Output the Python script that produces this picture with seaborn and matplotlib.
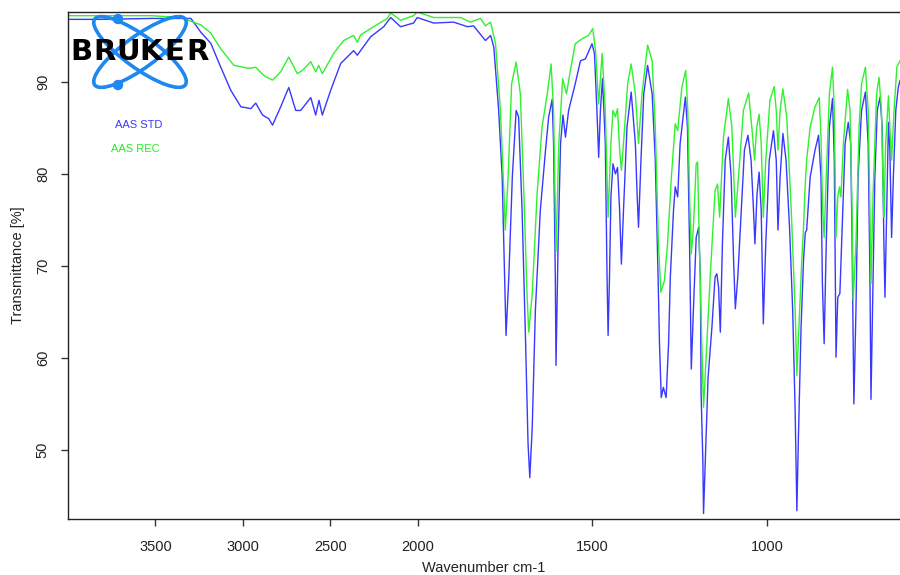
import numpy as np
import pandas as pd
import matplotlib
matplotlib.use("Agg")
import matplotlib.pyplot as plt
from matplotlib.patches import Ellipse, Circle
import seaborn as sns

# ---------------- data ----------------
std_wn = [3998, 3811, 3526, 3297, 3240, 3183, 3126, 3069, 3011, 2954, 2926, 2887, 2851, 2830,
          2783, 2737, 2697, 2669, 2640, 2611, 2583, 2564, 2545, 2497, 2440, 2366, 2345, 2269,
          2194, 2154, 2097, 2023, 2002, 1954, 1897, 1857, 1840, 1806, 1791, 1782, 1768, 1758,
          1751, 1747, 1739, 1729, 1718, 1711, 1701, 1691, 1684, 1679, 1672, 1663, 1649, 1634,
          1625, 1615, 1611, 1606, 1604, 1598, 1591, 1584, 1577, 1568, 1549, 1534, 1520, 1501,
          1494, 1487, 1482, 1477, 1471, 1463, 1458, 1455, 1451, 1447, 1441, 1434, 1428, 1422,
          1417, 1411, 1401, 1389, 1377, 1372, 1368, 1361, 1353, 1342, 1329, 1320, 1312, 1308,
          1303, 1297, 1289, 1282, 1277, 1268, 1263, 1256, 1249, 1234, 1228, 1222, 1217, 1211,
          1203, 1196, 1191, 1189, 1184, 1182, 1177, 1169, 1158, 1149, 1144, 1139, 1134, 1128,
          1120, 1111, 1103, 1096, 1091, 1084, 1074, 1065, 1055, 1046, 1039, 1035, 1029, 1023,
          1017, 1011, 1004, 994, 982, 974, 969, 963, 955, 946, 936, 927, 920, 915, 911, 903,
          896, 891, 887, 877, 863, 853, 846, 842, 837, 831, 822, 813, 808, 803, 798, 792, 787,
          777, 768, 761, 757, 752, 746, 740, 730, 719, 711, 706, 703, 699, 692, 685, 677, 671,
          666, 663, 658, 653, 649, 644, 639, 632, 625, 620, 612]
std_t = [96.8, 96.8, 96.9, 96.9, 95.4, 94.2, 91.6, 89.1, 87.3, 87.1, 87.7, 86.4, 86.0, 85.3,
         87.3, 89.4, 86.9, 86.9, 87.6, 88.3, 86.4, 88.0, 86.4, 89.1, 92.0, 93.4, 92.9, 94.9,
         96.0, 97.0, 96.0, 96.4, 97.0, 96.4, 96.5, 96.0, 96.1, 94.5, 95.05, 93.8, 86.9, 79.65,
         68.8, 62.45, 68.8, 79.65, 86.9, 86.2, 76.0, 61.6, 50.7, 47.0, 52.5, 65.2, 76.0, 82.6,
         86.2, 88.1, 83.3, 68.8, 59.2, 72.4, 83.3, 86.4, 84.0, 86.9, 89.8, 92.3, 92.5, 94.15,
         93.1, 86.9, 81.8, 86.9, 90.35, 83.3, 68.8, 62.45, 68.8, 77.5, 81.1, 80.0, 80.7, 76.0,
         70.2, 76.0, 85.1, 88.9, 83.3, 77.8, 74.2, 81.5, 88.7, 91.8, 88.7, 81.5, 68.8, 61.55,
         55.7, 56.8, 55.7, 61.55, 68.8, 76.0, 78.6, 77.5, 83.3, 88.35, 85.1, 72.4, 58.8, 65.2,
         73.1, 74.2, 68.8, 56.1, 48.9, 43.1, 48.9, 57.9, 63.35, 68.8, 69.15, 67.7, 62.8, 72.4,
         81.5, 84.0, 79.65, 70.6, 65.35, 68.8, 76.0, 82.6, 84.2, 81.5, 76.0, 72.4, 77.8, 80.2,
         76.0, 63.7, 72.4, 81.5, 84.7, 81.5, 73.9, 79.65, 84.4, 81.5, 74.2, 65.2, 54.3, 43.4,
         50.7, 63.35, 70.6, 73.6, 73.9, 79.65, 82.6, 84.2, 79.65, 68.1, 61.55, 72.4, 85.1,
         88.2, 81.5, 60.1, 66.6, 67.0, 72.4, 83.3, 85.6, 83.3, 72.4, 55.0, 65.2, 79.65, 86.9,
         88.9, 83.3, 68.8, 55.5, 64.1, 79.65, 86.9, 88.35, 85.1, 72.4, 66.6, 76.0, 85.6, 82.6,
         73.1, 79.65, 86.9, 89.4, 90.15, 90.6]

rec_wn = [3998, 3526, 3354, 3240, 3183, 3126, 3051, 2973, 2954, 2926, 2880, 2830, 2783, 2737,
          2688, 2659, 2611, 2583, 2566, 2545, 2480, 2423, 2366, 2345, 2326, 2269, 2173, 2154,
          2097, 2023, 2002, 1954, 1877, 1849, 1820, 1806, 1791, 1777, 1763, 1753, 1749, 1741,
          1731, 1718, 1706, 1696, 1687, 1682, 1672, 1658, 1644, 1629, 1618, 1611, 1606, 1604,
          1596, 1585, 1574, 1563, 1549, 1529, 1511, 1499, 1491, 1482, 1472, 1463, 1455, 1447,
          1441, 1434, 1428, 1422, 1417, 1411, 1399, 1389, 1377, 1368, 1358, 1342, 1329, 1320,
          1311, 1304, 1294, 1285, 1274, 1263, 1256, 1244, 1233, 1227, 1222, 1217, 1211, 1203,
          1199, 1194, 1187, 1182, 1175, 1163, 1149, 1142, 1136, 1125, 1111, 1101, 1091, 1082,
          1068, 1053, 1044, 1036, 1030, 1023, 1017, 1011, 1004, 992, 980, 974, 969, 963, 955,
          944, 931, 920, 915, 909, 901, 896, 891, 887, 877, 863, 851, 846, 841, 837, 831, 822,
          813, 808, 803, 798, 793, 789, 782, 770, 763, 757, 754, 746, 737, 730, 719, 711, 706,
          703, 697, 687, 680, 673, 668, 666, 661, 653, 649, 644, 637, 629, 620, 612]
rec_t = [97.2, 97.2, 97.0, 96.2, 95.3, 93.6, 91.8, 91.5, 91.5, 91.6, 90.7, 90.2, 91.1, 92.7,
         90.9, 91.25, 92.2, 91.1, 91.8, 90.9, 93.1, 94.5, 95.05, 94.3, 95.1, 95.8, 96.9, 97.5,
         96.7, 97.2, 97.6, 97.0, 97.0, 96.5, 96.9, 96.1, 96.5, 94.15, 86.9, 77.9, 73.9, 79.65,
         89.8, 92.15, 88.7, 77.9, 67.0, 62.8, 67.0, 77.9, 85.1, 88.7, 91.95, 86.9, 76.0, 71.6,
         83.3, 90.35, 88.7, 91.25, 94.15, 94.7, 95.05, 95.8, 93.4, 87.6, 93.1, 86.9, 75.3, 83.3,
         86.9, 86.2, 87.1, 82.6, 80.4, 83.3, 89.8, 91.95, 88.7, 83.3, 88.7, 94.0, 92.3, 85.1,
         72.4, 67.15, 68.4, 72.4, 79.65, 85.45, 84.7, 89.4, 91.25, 86.9, 77.8, 71.3, 74.2, 81.1,
         81.3, 72.4, 61.55, 54.65, 59.75, 68.8, 78.2, 78.9, 75.3, 84.0, 88.2, 85.1, 75.3, 79.65,
         86.9, 88.8, 85.1, 81.5, 85.1, 86.5, 83.3, 75.3, 81.5, 88.0, 89.5, 86.9, 82.6, 86.9,
         89.25, 86.2, 76.0, 65.2, 58.1, 63.35, 70.6, 74.2, 79.0, 81.5, 85.1, 87.3, 88.3, 84.0,
         76.0, 73.1, 79.65, 88.7, 91.6, 86.9, 73.1, 77.5, 78.6, 77.5, 83.3, 89.2, 86.9, 76.0,
         66.25, 72.4, 85.1, 89.8, 91.6, 86.9, 76.0, 68.1, 77.8, 88.7, 90.5, 86.9, 77.8, 75.3,
         83.3, 88.5, 85.1, 81.5, 86.9, 91.6, 92.3, 92.8]

series_names = ["AAS STD", "AAS REC"]
series_colors = ["#3838ff", "#30f030"]
x_ticks = [3500, 3000, 2500, 2000, 1500, 1000]
y_ticks = [50, 60, 70, 80, 90]
logo_text = "BRUKER"

df = pd.concat([
    pd.DataFrame({"wn": std_wn, "T": std_t, "sample": series_names[0]}),
    pd.DataFrame({"wn": rec_wn, "T": rec_t, "sample": series_names[1]}),
])

# ---------------- figure ----------------
sns.set_style("ticks")
plt.rcParams["font.family"] = ["Liberation Sans", "DejaVu Sans"]

fig = plt.figure(figsize=(9, 5.75), dpi=100)
ax = fig.add_axes([68 / 900, 1 - 519 / 575, 1 - 68 / 900, (519 - 12) / 575])

sns.lineplot(data=df, x="wn", y="T", hue="sample", palette=dict(zip(series_names, series_colors)),
             estimator=None, sort=False, linewidth=1.0, legend=False, ax=ax)


def fwd(w):
    w = np.asarray(w, dtype=float)
    return np.where(w <= 2000, w, 2000 + (w - 2000) / 2.0)


def inv(v):
    v = np.asarray(v, dtype=float)
    return np.where(v <= 2000, v, 2000 + (v - 2000) * 2.0)


ax.set_xscale("function", functions=(fwd, inv))
ax.set_xlim(4000, 620)
ax.set_ylim(42.5, 97.6)
ax.set_xticks(x_ticks)
ax.set_xticklabels([str(t) for t in x_ticks])
ax.set_yticks(y_ticks)
ax.set_yticklabels([str(t) for t in y_ticks], rotation=90, va="center")
ax.minorticks_off()

for s in ["left", "bottom", "top"]:
    ax.spines[s].set_visible(True)
    ax.spines[s].set_color("#222222")
    ax.spines[s].set_linewidth(1.0)
ax.spines["right"].set_visible(False)
ax.tick_params(axis="both", direction="out", length=5, width=1, color="#333333",
               labelsize=10.5, labelcolor="#222222")
ax.tick_params(axis="x", pad=10)
ax.tick_params(axis="y", pad=8)

ax.set_xlabel("Wavenumber cm-1", fontsize=10.5, color="#222222", labelpad=5)
ax.set_ylabel("Transmittance [%]", fontsize=10.5, color="#222222", labelpad=8)

# legend-like labels
fig.text(115 / 900, 1 - 125 / 575, series_names[0], color=series_colors[0], fontsize=8, va="center")
fig.text(111 / 900, 1 - 149 / 575, series_names[1], color="#22ee22", fontsize=8, va="center")

# Bruker logo
lx0, ly0, lw, lh = 66, 10, 150, 84
lax = fig.add_axes([lx0 / 900, 1 - (ly0 + lh) / 575, lw / 900, lh / 575])
lax.set_xlim(lx0, lx0 + lw)
lax.set_ylim(ly0 + lh, ly0)
lax.axis("off")
logo_blue = "#1e88f0"
for ang in (36, -36):
    lax.add_patch(Ellipse((140, 52), 112, 32, angle=ang, fill=False, edgecolor=logo_blue, linewidth=2.6))
lax.add_patch(Circle((118, 19), 4.5, color=logo_blue))
lax.add_patch(Circle((118, 85), 4.5, color=logo_blue))
letter_x = [81.5, 104.7, 127.9, 151.1, 174.3, 197.5]
for lx, ch in zip(letter_x, logo_text):
    lax.text(lx, 52, ch, fontsize=21, fontweight="heavy", family="DejaVu Sans",
             color="black", ha="center", va="center", zorder=5)

fig.savefig("out.png", dpi=100)
